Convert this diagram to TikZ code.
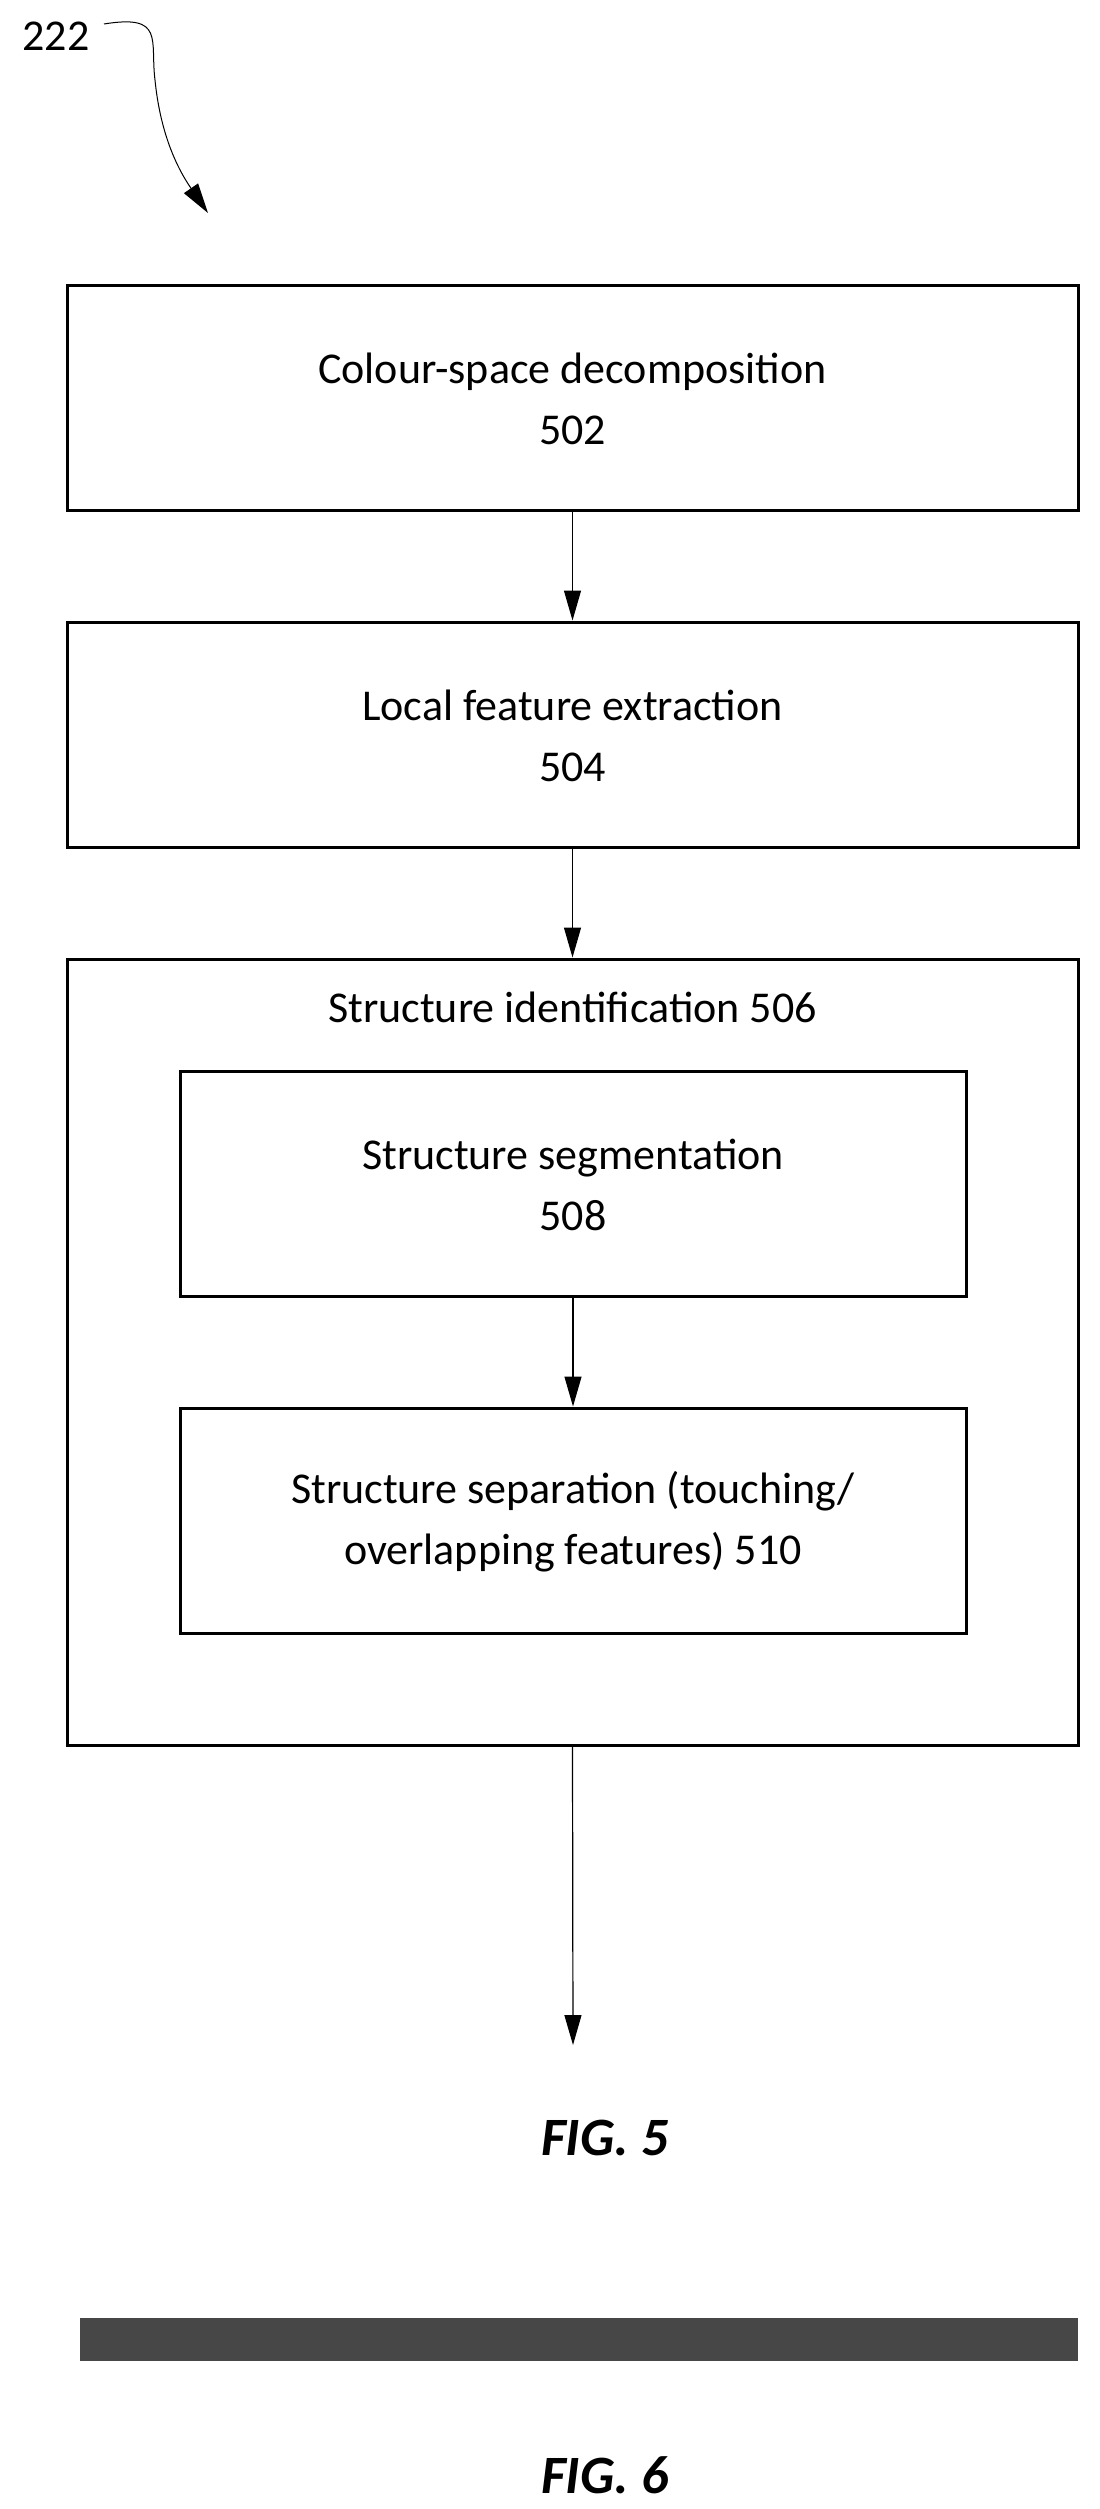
\documentclass[tikz,border=0pt]{standalone}
\usepackage{fontspec}
\setmainfont{Carlito}
\usetikzlibrary{arrows.meta}
\begin{document}
\begin{tikzpicture}[x=1pt,y=-1pt,
  box/.style={draw,line width=3pt,inner sep=0pt},
  txt/.style={font=\fontsize{44}{61}\selectfont,align=center},
  arr/.style={line width=1.2pt,-{Triangle[length=30pt,width=17pt]}}]
\useasboundingbox (0,0) rectangle (1100,2509);
\node[box,minimum width=1011pt,minimum height=225pt] (b1) at (572.5,397.5) {};
\node[txt] (t1) at (572.5,399) {Colour-space decomposition\\502};
\node[box,minimum width=1011pt,minimum height=225pt] (b2) at (572.5,734.5) {};
\node[txt] (t2) at (572.5,736) {Local feature extraction\\504};
\node[box,minimum width=1011pt,minimum height=786pt] (b3) at (572.5,1352) {};
\node[txt] (t3) at (572.5,1007) {Structure identification 506};
\node[box,minimum width=786pt,minimum height=225pt] (b4) at (573,1183.5) {};
\node[txt] (t4) at (573,1185) {Structure segmentation\\508};
\node[box,minimum width=786pt,minimum height=225pt] (b5) at (573,1520.5) {};
\node[txt] (t5) at (573,1522) {Structure separation (touching/\\overlapping features) 510};
\coordinate (end) at (573,2045);
\draw[arr] (b1.south) -- (b2.north);
\draw[arr] (b2.south) -- (b3.north);
\draw[arr] (b4.south) -- (b5.north);
\draw[arr] (b3.south) -- (end);
\node[txt] (l222) at (56,36) {222};
\coordinate (c0) at (104,24);
\coordinate (tip) at (208,213);
\draw[line width=1pt,-{Triangle[length=30pt,width=17pt]}] (c0) .. controls (165,14) and (150,40) .. (155,80) .. controls (160,130) and (175,165) .. (tip);
\node[font=\fontsize{54}{60}\selectfont\bfseries\itshape] (f5) at (605,2138) {FIG. 5};
\node[draw=none,fill=black!72,minimum width=998pt,minimum height=43pt,inner sep=0pt] (bar) at (579,2339.5) {};
\node[font=\fontsize{54}{60}\selectfont\bfseries\itshape] (f6) at (605,2475) {FIG. 6};
\end{tikzpicture}
\end{document}
